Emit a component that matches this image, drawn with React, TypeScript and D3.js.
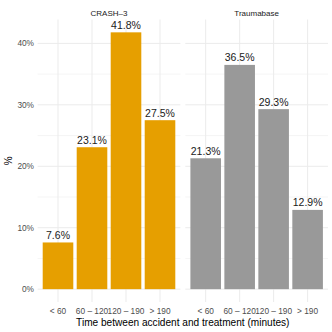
import React from "react";
import * as d3 from "d3";

const categories = ["< 60", "60 – 120", "120 – 190", "> 190"];
const panels = ["CRASH–3", "Traumabase"];
const crashValues = [7.6, 23.1, 41.8, 27.5];
const traumaValues = [21.3, 36.5, 29.3, 12.9];
const colors = ["#E69F00", "#999999"];
const yTicks = [0, 10, 20, 30, 40];
const yMinor = [5, 15, 25, 35];

export default function App() {
  const W = 332, H = 332;
  const panelTop = 19.5, panelBottom = 302;
  const panelXs: [number, number][] = [[37.6, 180.4], [185.3, 328]];
  const allVals = [...crashValues, ...traumaValues];
  const maxV = d3.max(allVals) as number;
  const y = d3.scaleLinear().domain([-0.05 * maxV, maxV * 1.05]).range([panelBottom, panelTop]);
  const series = [crashValues, traumaValues];
  const font = "Liberation Sans, Arial, sans-serif";

  return (
    <svg width={W} height={H} style={{ position: "absolute", left: 0, top: 0, background: "#fff" }} fontFamily={font}>
      {panels.map((p, pi) => {
        const [x0, x1] = panelXs[pi];
        const xc = d3.scaleLinear().domain([0.4, categories.length + 0.6]).range([x0, x1]);
        const unit = xc(2) - xc(1);
        const bw = unit * 0.9;
        return (
          <g key={p}>
            {yMinor.map(t => (
              <line key={"m" + t} x1={x0} x2={x1} y1={y(t)} y2={y(t)} stroke="#ebebeb" strokeWidth={0.5} />
            ))}
            {yTicks.map(t => (
              <line key={"g" + t} x1={x0} x2={x1} y1={y(t)} y2={y(t)} stroke="#ebebeb" strokeWidth={1} />
            ))}
            {categories.map((c, i) => (
              <line key={"v" + c} x1={xc(i + 1)} x2={xc(i + 1)} y1={panelTop} y2={panelBottom} stroke="#ebebeb" strokeWidth={1} />
            ))}
            {series[pi].map((v, i) => (
              <rect key={"b" + i} x={xc(i + 1) - bw / 2} y={y(v)} width={bw} height={y(0) - y(v)} fill={colors[pi]} />
            ))}
            {series[pi].map((v, i) => (
              <text key={"l" + i} x={xc(i + 1)} y={y(v) - 3.5} textAnchor="middle" fontSize={10.5} fill="#1a1a1a">
                {v.toFixed(1) + "%"}
              </text>
            ))}
            {categories.map((c, i) => (
              <text key={"t" + c} x={xc(i + 1)} y={313.5} textAnchor="middle" fontSize={8.3} fill="#4d4d4d">{c}</text>
            ))}
            <text x={(x0 + x1) / 2} y={15.5} textAnchor="middle" fontSize={8} fill="#1a1a1a">{p}</text>
          </g>
        );
      })}
      {yTicks.map(t => (
        <text key={"yt" + t} x={34} y={y(t) + 3} textAnchor="end" fontSize={8.3} fill="#4d4d4d">{t + "%"}</text>
      ))}
      <text transform={`translate(12,${(panelTop + panelBottom) / 2}) rotate(-90)`} textAnchor="middle" fontSize={10} fill="#000">%</text>
      <text x={(37.6 + 328) / 2} y={325.5} textAnchor="middle" fontSize={10.1} fill="#000">Time between accident and treatment (minutes)</text>
    </svg>
  );
}
